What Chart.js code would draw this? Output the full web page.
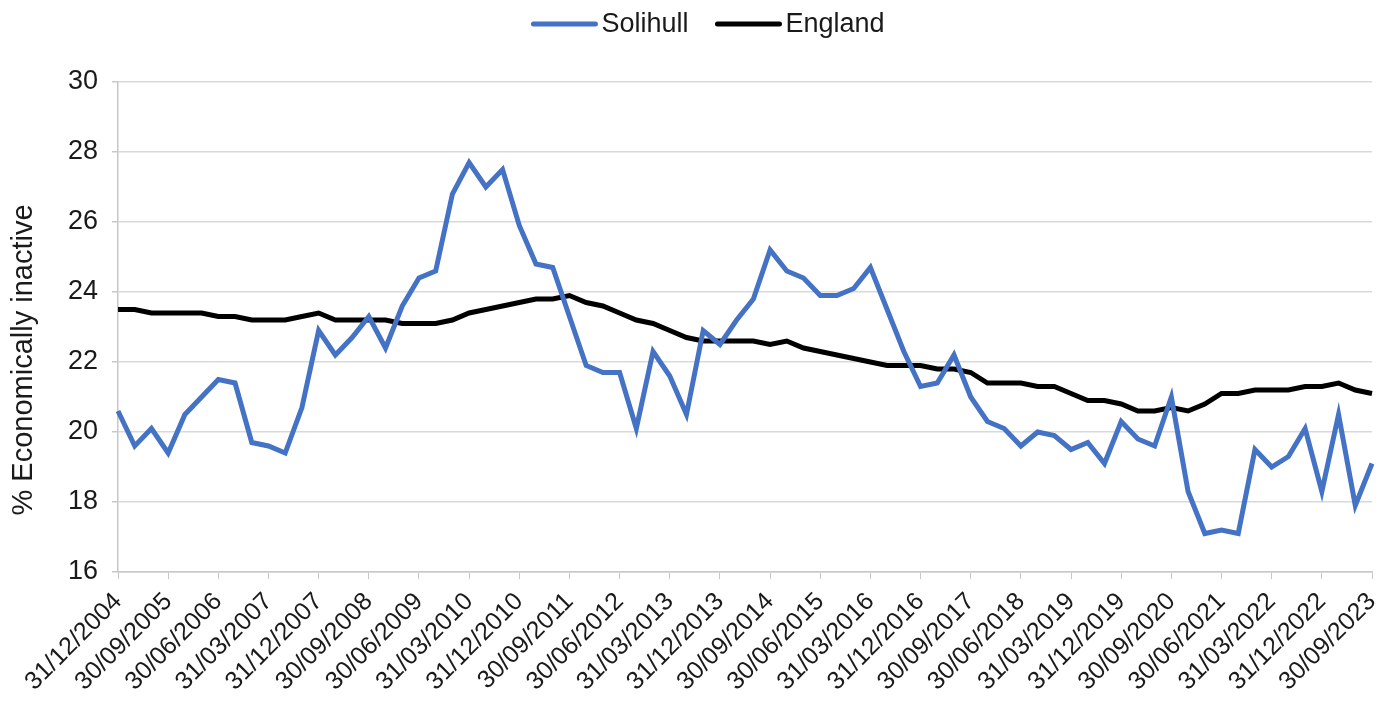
<!DOCTYPE html>
<html>
<head>
<meta charset="utf-8">
<script src="https://cdn.jsdelivr.net/npm/chart.js@4/dist/chart.umd.min.js"></script>
<style>
  html, body { margin: 0; padding: 0; background: #fff; }
  #wrap { width: 1394px; height: 711px; }
</style>
</head>
<body>
<div id="wrap"><canvas id="grafico"></canvas></div>
<script>
const trimestres = [
  "31/12/2004",
  "31/03/2005", "30/06/2005", "30/09/2005", "31/12/2005",
  "31/03/2006", "30/06/2006", "30/09/2006", "31/12/2006",
  "31/03/2007", "30/06/2007", "30/09/2007", "31/12/2007",
  "31/03/2008", "30/06/2008", "30/09/2008", "31/12/2008",
  "31/03/2009", "30/06/2009", "30/09/2009", "31/12/2009",
  "31/03/2010", "30/06/2010", "30/09/2010", "31/12/2010",
  "31/03/2011", "30/06/2011", "30/09/2011", "31/12/2011",
  "31/03/2012", "30/06/2012", "30/09/2012", "31/12/2012",
  "31/03/2013", "30/06/2013", "30/09/2013", "31/12/2013",
  "31/03/2014", "30/06/2014", "30/09/2014", "31/12/2014",
  "31/03/2015", "30/06/2015", "30/09/2015", "31/12/2015",
  "31/03/2016", "30/06/2016", "30/09/2016", "31/12/2016",
  "31/03/2017", "30/06/2017", "30/09/2017", "31/12/2017",
  "31/03/2018", "30/06/2018", "30/09/2018", "31/12/2018",
  "31/03/2019", "30/06/2019", "30/09/2019", "31/12/2019",
  "31/03/2020", "30/06/2020", "30/09/2020", "31/12/2020",
  "31/03/2021", "30/06/2021", "30/09/2021", "31/12/2021",
  "31/03/2022", "30/06/2022", "30/09/2022", "31/12/2022",
  "31/03/2023", "30/06/2023", "30/09/2023"
];

const solihull = [
  20.6, 19.6, 20.1, 19.4, 20.5, 21.0, 21.5, 21.4, 19.7, 19.6,
  19.4, 20.7, 22.9, 22.2, 22.7, 23.3, 22.4, 23.6, 24.4, 24.6,
  26.8, 27.7, 27.0, 27.5, 25.9, 24.8, 24.7, 23.3, 21.9, 21.7,
  21.7, 20.1, 22.3, 21.6, 20.5, 22.9, 22.5, 23.2, 23.8, 25.2,
  24.6, 24.4, 23.9, 23.9, 24.1, 24.7, 23.5, 22.3, 21.3, 21.4,
  22.2, 21.0, 20.3, 20.1, 19.6, 20.0, 19.9, 19.5, 19.7, 19.1,
  20.3, 19.8, 19.6, 21.0, 18.3, 17.1, 17.2, 17.1, 19.5, 19.0,
  19.3, 20.1, 18.3, 20.5, 17.9, 19.1
];

const england = [
  23.5, 23.5, 23.4, 23.4, 23.4, 23.4, 23.3, 23.3, 23.2, 23.2,
  23.2, 23.3, 23.4, 23.2, 23.2, 23.2, 23.2, 23.1, 23.1, 23.1,
  23.2, 23.4, 23.5, 23.6, 23.7, 23.8, 23.8, 23.9, 23.7, 23.6,
  23.4, 23.2, 23.1, 22.9, 22.7, 22.6, 22.6, 22.6, 22.6, 22.5,
  22.6, 22.4, 22.3, 22.2, 22.1, 22.0, 21.9, 21.9, 21.9, 21.8,
  21.8, 21.7, 21.4, 21.4, 21.4, 21.3, 21.3, 21.1, 20.9, 20.9,
  20.8, 20.6, 20.6, 20.7, 20.6, 20.8, 21.1, 21.1, 21.2, 21.2,
  21.2, 21.3, 21.3, 21.4, 21.2, 21.1
];

const yMin = 16;
const yMax = 30;
const yPasso = 2;
const tituloY = "% Economically inactive";

const fonte = "'Liberation Sans', Arial, sans-serif";
const corTexto = "#1a1a1a";

// legenda com traço fino e texto colado, como no original
const legendaLinhas = {
  id: "legendaLinhas",
  afterDraw(chart) {
    const ctx = chart.ctx;
    ctx.save();
    ctx.font = "27px " + fonte;
    ctx.textBaseline = "middle";
    ctx.textAlign = "left";
    const traco = 62, folga = 6, espaco = 29;
    const itens = chart.data.datasets.map((ds) => ({
      nome: ds.label,
      cor: ds.borderColor,
      largura: ctx.measureText(ds.label).width,
    }));
    let total = itens.reduce((s, it) => s + traco + folga + it.largura, 0);
    total += espaco * (itens.length - 1);
    let x = 709 - total / 2;
    const y = 24;
    itens.forEach((it) => {
      ctx.strokeStyle = it.cor;
      ctx.lineWidth = 5;
      ctx.lineCap = "round";
      ctx.beginPath();
      ctx.moveTo(x, y);
      ctx.lineTo(x + traco, y);
      ctx.stroke();
      ctx.fillStyle = corTexto;
      ctx.fillText(it.nome, x + traco + folga, y + 1);
      x += traco + folga + it.largura + espaco;
    });

    // título do eixo y
    ctx.translate(24, 360);
    ctx.rotate(-Math.PI / 2);
    ctx.textAlign = "center";
    ctx.font = "29px " + fonte;
    ctx.fillText(tituloY, 0, 0);
    ctx.restore();
  },
};

new Chart(document.getElementById("grafico"), {
  type: "line",
  data: {
    labels: trimestres,
    datasets: [
      {
        label: "Solihull",
        data: solihull,
        borderColor: "#4472c4",
        backgroundColor: "#4472c4",
        borderWidth: 5,
        pointRadius: 0,
        tension: 0,
      },
      {
        label: "England",
        data: england,
        borderColor: "#000000",
        backgroundColor: "#000000",
        borderWidth: 5,
        pointRadius: 0,
        tension: 0,
      },
    ],
  },
  plugins: [legendaLinhas],
  options: {
    responsive: true,
    maintainAspectRatio: false,
    animation: false,
    layout: { padding: { left: 0, right: 22, top: 82, bottom: 0 } },
    plugins: {
      tooltip: { enabled: false },
      legend: { display: false },
    },
    scales: {
      x: {
        ticks: {
          autoSkip: false,
          minRotation: 45,
          maxRotation: 45,
          padding: 8,
          color: corTexto,
          font: { family: fonte, size: 25 },
          callback: function (valor, indice) {
            return indice % 3 === 0 ? trimestres[indice] : null;
          },
        },
        grid: {
          drawOnChartArea: false,
          drawTicks: true,
          tickLength: 7,
          tickColor: "#c8c8c8",
        },
        border: { color: "#c8c8c8", width: 1.5 },
        afterFit: function (escala) {
          escala.height = 139;
          escala.paddingRight = 0;
        },
      },
      y: {
        min: yMin,
        max: yMax,
        ticks: {
          stepSize: yPasso,
          padding: 14,
          color: corTexto,
          font: { family: fonte, size: 27 },
        },
        grid: {
          color: "#d9d9d9",
          lineWidth: 1.5,
          tickLength: 6,
          tickColor: "#c8c8c8",
        },
        border: { color: "#c8c8c8", width: 1.5 },
        afterFit: function (escala) {
          escala.width = 118;
        },
      },
    },
  },
});
</script>
</body>
</html>
